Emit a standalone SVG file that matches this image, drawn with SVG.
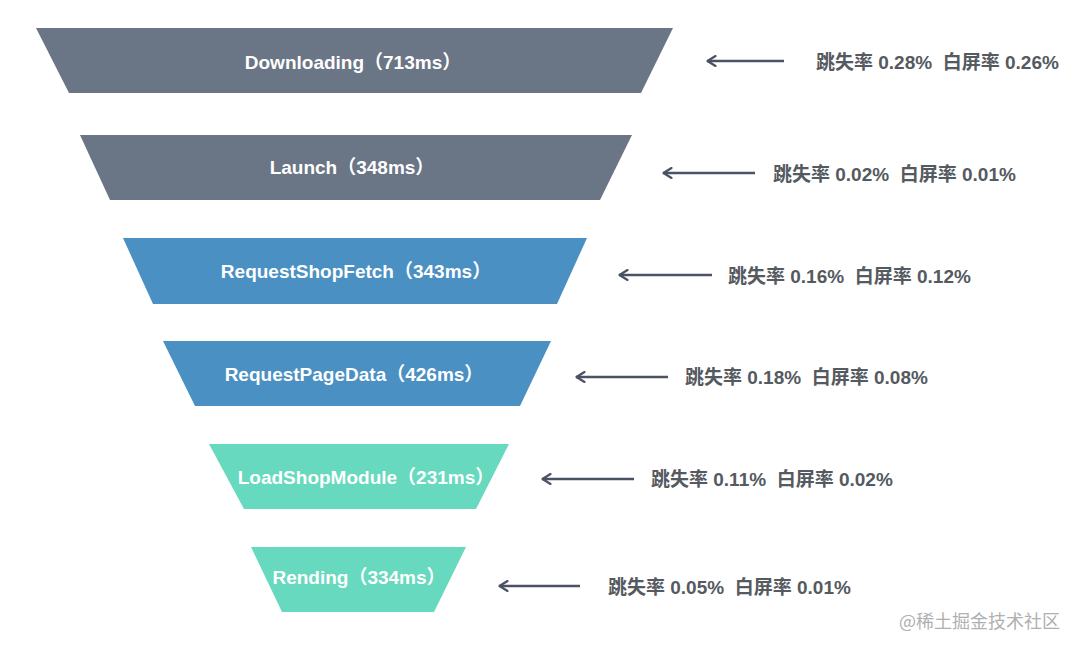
<svg xmlns="http://www.w3.org/2000/svg" width="1080" height="651" viewBox="0 0 1080 651">
<defs>
<style>
.grey{fill:#6a7586}
.blue{fill:#4a90c3}
.teal{fill:#66d9be}
.lbl{font-family:"Liberation Sans","Noto Sans CJK SC",sans-serif;font-size:19px;font-weight:bold;fill:#ffffff;text-anchor:middle}
.rate{font-family:"Liberation Sans","Noto Sans CJK SC",sans-serif;font-size:19px;font-weight:bold;fill:#555a60;white-space:pre}
.arr{stroke:#4a5263;stroke-width:2.5;fill:none;marker-start:url(#ah)}
.wm{font-family:"Noto Sans CJK SC",sans-serif;font-size:18px;fill:#b0b0b0}
</style>
<marker id="ah" viewBox="0 0 12 12" refX="1.5" refY="6" markerWidth="12" markerHeight="12" markerUnits="userSpaceOnUse" orient="auto">
<path d="M10,1 L2,6 L10,11" fill="none" stroke="#4a5263" stroke-width="2.2" stroke-linecap="round" stroke-linejoin="round"/>
</marker>
</defs>
<rect width="1080" height="651" fill="#ffffff"/>
<g id="n1"><polygon class="grey" points="36,28 673,28 641,93 69,93"/><text class="lbl" x="353" y="69">Downloading（713ms）</text></g>
<g id="n2"><polygon class="grey" points="80,135 632,135 600,200 110,200"/><text class="lbl" x="352" y="174">Launch（348ms）</text></g>
<g id="n3"><polygon class="blue" points="123,238 587,238 557,304 153,304"/><text class="lbl" x="356" y="278">RequestShopFetch（343ms）</text></g>
<g id="n4"><polygon class="blue" points="163,341 551,341 520,406 195,406"/><text class="lbl" x="354" y="381">RequestPageData（426ms）</text></g>
<g id="n5"><polygon class="teal" points="209,444 509,444 476,509 244,509"/><text class="lbl" x="366" y="484">LoadShopModule（231ms）</text></g>
<g id="n6"><polygon class="teal" points="251,547 466,547 434,612 282,612"/><text class="lbl" x="359" y="584">Rending（334ms）</text></g>
<g id="connectors">
<line class="arr" x1="707" y1="61" x2="784" y2="61"/>
<line class="arr" x1="663" y1="173" x2="755" y2="173"/>
<line class="arr" x1="619" y1="275" x2="712" y2="275"/>
<line class="arr" x1="576" y1="377" x2="668" y2="377"/>
<line class="arr" x1="542" y1="479" x2="634" y2="479"/>
<line class="arr" x1="499" y1="586" x2="580" y2="586"/>
</g>
<g id="rates">
<text class="rate" x="816" y="69" xml:space="preserve">跳失率 0.28%  白屏率 0.26%</text>
<text class="rate" x="773" y="181" xml:space="preserve">跳失率 0.02%  白屏率 0.01%</text>
<text class="rate" x="728" y="283" xml:space="preserve">跳失率 0.16%  白屏率 0.12%</text>
<text class="rate" x="685" y="384" xml:space="preserve">跳失率 0.18%  白屏率 0.08%</text>
<text class="rate" x="651" y="486" xml:space="preserve">跳失率 0.11%  白屏率 0.02%</text>
<text class="rate" x="608" y="594" xml:space="preserve">跳失率 0.05%  白屏率 0.01%</text>
</g>
<text class="wm" x="899" y="628">@稀土掘金技术社区</text>
</svg>
